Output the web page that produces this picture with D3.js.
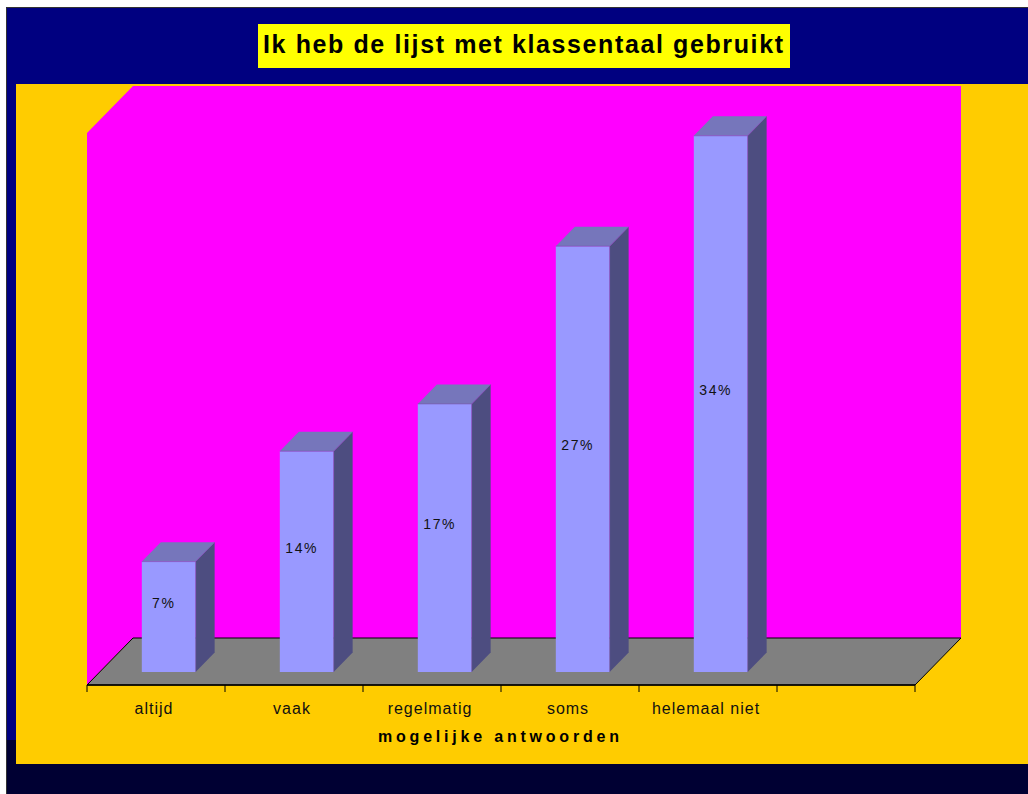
<!DOCTYPE html>
<html>
<head>
<meta charset="utf-8">
<script src="https://cdn.jsdelivr.net/npm/d3@7"></script>
<style>
  html, body { margin: 0; padding: 0; background: #fff; }
  svg { display: block; }
  text { font-family: "Liberation Sans", Arial, sans-serif; }
</style>
</head>
<body>
<svg id="chart" width="1028" height="794"></svg>
<script>
// Survey answers: share of respondents per answer
const categories = ["altijd", "vaak", "regelmatig", "soms", "helemaal niet"];
const values = [7, 14, 17, 27, 34];
const valueLabels = ["7%", "14%", "17%", "27%", "34%"];
const title = "Ik heb de lijst met klassentaal gebruikt";
const axisTitle = "mogelijke antwoorden";
const slotCount = 6; // five answers plus one empty slot at the end

const svg = d3.select("#chart");

// Slide frame
svg.append("rect").attr("x", 6).attr("y", 7).attr("width", 1022).attr("height", 787).attr("fill", "#000080");
svg.append("path").attr("d", "M6.5,794 V7.5 H1028").attr("fill", "none").attr("stroke", "#333").attr("stroke-width", 1);
svg.append("rect").attr("x", 7).attr("y", 740).attr("width", 1021).attr("height", 54).attr("fill", "#000033");

// Chart area
svg.append("rect").attr("x", 16).attr("y", 84).attr("width", 1012).attr("height", 680).attr("fill", "#FFCC00");

// Title box
svg.append("rect").attr("x", 258).attr("y", 24).attr("width", 532).attr("height", 44).attr("fill", "#FFFF00");
svg.append("text").attr("x", 263).attr("y", 53)
  .attr("textLength", 520).attr("lengthAdjust", "spacing")
  .attr("font-size", 25).attr("font-weight", "bold").attr("fill", "#000")
  .text(title);

// 3D projection: screen x of front edge, height in px, depth fraction 0..1
const FRONT_Y = 685, DX = 46, DY = 47;
const proj = (x, h, d) => [x + d * DX, FRONT_Y - h - d * DY];

const x = d3.scaleBand().domain(d3.range(slotCount)).range([87, 915])
  .paddingInner(0.61).paddingOuter(0.305);
const y = d3.scaleLinear().domain([0, 35]).range([0, 552]);

const [x0, x1] = x.range();
const hMax = y(35);
const poly = pts => "M" + pts.map(p => p.join(",")).join("L") + "Z";

// Back wall
svg.append("path").attr("fill", "#FF00FF")
  .attr("d", poly([proj(x0, 0, 1), proj(x1, 0, 1), proj(x1, hMax, 1), proj(x0, hMax, 1)]));
// Side wall
svg.append("path").attr("fill", "#FF00FF")
  .attr("d", poly([proj(x0, 0, 0), proj(x0, 0, 1), proj(x0, hMax, 1), proj(x0, hMax, 0)]));
// Floor
svg.append("path").attr("fill", "#808080").attr("stroke", "#000").attr("stroke-width", 1)
  .attr("d", poly([proj(x0, 0, 0), proj(x0, 0, 1), proj(x1, 0, 1), proj(x1, 0, 0)]));
svg.append("line").attr("x1", x0).attr("x2", x1).attr("y1", FRONT_Y).attr("y2", FRONT_Y)
  .attr("stroke", "#000").attr("stroke-width", 1.6);

// Category ticks at slot boundaries
const bounds = d3.range(slotCount + 1).map(i => x0 + i * x.step());
svg.selectAll("line.tick").data(bounds).join("line").attr("class", "tick")
  .attr("x1", d => d).attr("x2", d => d).attr("y1", FRONT_Y).attr("y2", FRONT_Y + 7)
  .attr("stroke", "#000").attr("stroke-width", 1);

// Bars
const dFront = 13 / 47, dBack = dFront + 19 / 46;
const bars = svg.selectAll("g.bar").data(values).join("g").attr("class", "bar");
bars.each(function (v, i) {
  const g = d3.select(this);
  const bx = x(i), bw = x.bandwidth(), h = y(v);
  const fl = proj(bx, 0, dFront), fr = proj(bx + bw, 0, dFront);
  const tl = proj(bx, h, dFront), tr = proj(bx + bw, h, dFront);
  const btr = proj(bx + bw, h, dBack), btl = proj(bx, h, dBack), bbr = proj(bx + bw, 0, dBack);
  g.append("path").attr("fill", "#4D4D80").attr("d", poly([fr, bbr, btr, tr]));
  g.append("path").attr("fill", "#7676BB").attr("d", poly([tl, tr, btr, btl]));
  g.append("path").attr("fill", "#9999FF").attr("d", poly([fl, fr, tr, tl]));
  g.append("path").attr("fill", "none").attr("stroke", "#7A5AB0").attr("stroke-width", 0.7)
    .attr("d", "M" + [tl, tr, btr].map(p => p.join(",")).join("L") + "M" + tr.join(",") + "L" + fr.join(","));
});

// Value labels inside the bars
svg.selectAll("text.value").data(values).join("text").attr("class", "value")
  .attr("x", (v, i) => proj(x(i) + x.bandwidth() / 2, 0, dFront)[0] - 5)
  .attr("y", v => proj(0, y(v) / 2, dFront)[1] - 9)
  .attr("text-anchor", "middle").attr("font-size", 14).attr("letter-spacing", 1.6)
  .attr("fill", "#111")
  .text((v, i) => valueLabels[i]);

// Category labels
svg.selectAll("text.cat").data(categories).join("text").attr("class", "cat")
  .attr("x", (c, i) => x(i) + x.bandwidth() / 2 - 2)
  .attr("y", 714)
  .attr("text-anchor", "middle").attr("font-size", 16).attr("letter-spacing", 1)
  .attr("fill", "#111")
  .text(c => c);

// Axis title
svg.append("text").attr("x", 378).attr("y", 742)
  .attr("textLength", 241).attr("lengthAdjust", "spacing")
  .attr("font-size", 16).attr("font-weight", "bold").attr("fill", "#000")
  .text(axisTitle);
</script>
</body>
</html>
